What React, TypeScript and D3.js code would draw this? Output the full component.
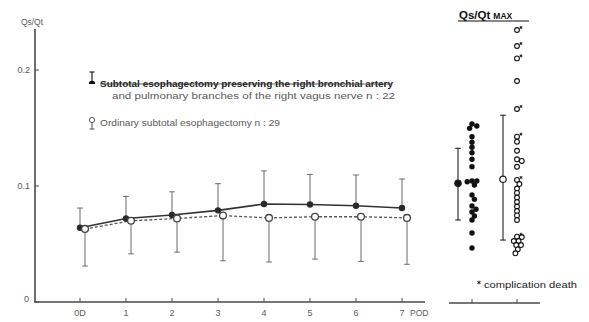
import React from "react";
import * as d3 from "d3";

// ---------- data ----------
const days = ["0D", "1", "2", "3", "4", "5", "6", "7"];
const preservedMean = [0.064, 0.072, 0.075, 0.079, 0.0845, 0.084, 0.083, 0.081];
const preservedUpper = [0.081, 0.091, 0.095, 0.102, 0.113, 0.11, 0.1095, 0.106];
const ordinaryMean = [0.063, 0.07, 0.072, 0.0745, 0.0725, 0.0735, 0.0735, 0.0725];
const ordinaryLower = [0.031, 0.0415, 0.043, 0.0355, 0.0345, 0.037, 0.035, 0.0325];
const yTicks = [0, 0.1, 0.2];
const yTickLabels = ["0", "0.1", "0.2"];

const groups = ["preserved", "ordinary"];
const groupMean = [0.1023, 0.1058];
const groupUpper = [0.1325, 0.161];
const groupLower = [0.0707, 0.0534];

const preservedMax = [
  0.1534, 0.1517, 0.1497, 0.1425, 0.1377, 0.1334, 0.1287, 0.123, 0.1166, 0.1043, 0.1037,
  0.1043, 0.1009, 0.0922, 0.0885, 0.0828, 0.08, 0.0776, 0.0741, 0.0707, 0.0595, 0.0466,
];
const ordinaryMax = [
  0.2345, 0.2207, 0.21, 0.1905, 0.1664, 0.1425, 0.1382, 0.1304, 0.123, 0.1216, 0.1166,
  0.1052, 0.1017, 0.0978, 0.094, 0.0901, 0.0862, 0.0823, 0.0784, 0.0746, 0.0707, 0.0563,
  0.056, 0.0526, 0.0526, 0.0491, 0.0491, 0.0454, 0.042,
];
const ordinaryDeath = [
  true, true, true, false, true, true, false, false, false, false, false,
  true, false, false, false, false, false, false, false, false, false, true,
  false, false, false, false, false, false, false,
];

// ---------- helpers ----------
function dodge(values: number[], y: (v: number) => number, minDist: number) {
  const placed: { x: number; y: number; i: number }[] = [];
  const order = values.map((v, i) => i).sort((a, b) => values[b] - values[a]);
  for (const i of order) {
    const py = y(values[i]);
    let best = 0;
    for (let k = 0; k < 60; k++) {
      const off = k === 0 ? 0 : (k % 2 === 1 ? 1 : -1) * Math.ceil(k / 2) * 0.8;
      const ok = placed.every((p) => Math.hypot(p.x - off, p.y - py) >= minDist);
      if (ok) {
        best = off;
        break;
      }
    }
    placed.push({ x: best, y: py, i });
  }
  return placed.sort((a, b) => a.i - b.i);
}

function Star({ cx, cy, s }: { cx: number; cy: number; s: number }) {
  const a = s * 0.87;
  const b = s * 0.5;
  return (
    <g stroke="#111" strokeWidth={0.9}>
      <line x1={cx} x2={cx} y1={cy - s} y2={cy + s} />
      <line x1={cx - a} x2={cx + a} y1={cy - b} y2={cy + b} />
      <line x1={cx - a} x2={cx + a} y1={cy + b} y2={cy - b} />
    </g>
  );
}

export default function App() {
  const W = 589;
  const H = 322;
  const y = d3.scaleLinear().domain([0, 0.2]).range([302, 70]);
  const x = d3.scalePoint<string>().domain(days).range([80, 402]);
  const gx = d3.scalePoint<string>().domain(groups).range([472, 517]);

  const axisColor = "#4a4a4a";
  const textColor = "#5a5a5a";
  const font = "'Liberation Sans', Arial, sans-serif";

  const solidLine = d3
    .line<number>()
    .x((d, i) => x(days[i])!)
    .y((d) => y(d));
  const dashLine = d3
    .line<number>()
    .x((d, i) => x(days[i])! + 5)
    .y((d) => y(d));

  const cap = 2.8;
  const rFilled = 2.7;
  const rOpen = 2.7;

  const presDots = dodge(preservedMax, y, 4.6);
  const ordDots = dodge(ordinaryMax, y, 4.4);

  return (
    <svg
      width={W}
      height={H}
      style={{ position: "absolute", left: 0, top: 0, background: "#fff" }}
      fontFamily={font}
    >
      <rect width={W} height={H} fill="#fff" />

      {/* main axes */}
      <line x1={35} x2={35} y1={29} y2={302} stroke={axisColor} strokeWidth={1.6} />
      <line x1={34} x2={425} y1={302} y2={302} stroke={axisColor} strokeWidth={1.6} />
      <text x={32} y={25} fontSize={8.5} fill={textColor} textAnchor="middle">
        Qs/Qt
      </text>
      {yTicks.map((t, i) => (
        <g key={t}>
          <line x1={35} x2={39} y1={y(t)} y2={y(t)} stroke={axisColor} strokeWidth={1} />
          <text
            x={i === 0 ? 29 : 30}
            y={y(t) + (i === 0 ? 0 : 3)}
            fontSize={9}
            fill={textColor}
            textAnchor="end"
          >
            {yTickLabels[i]}
          </text>
        </g>
      ))}
      {days.map((d) => (
        <g key={d}>
          <line x1={x(d)} x2={x(d)} y1={302} y2={298} stroke={axisColor} strokeWidth={1} />
          <text x={x(d)} y={316} fontSize={9} fill={textColor} textAnchor="middle">
            {d}
          </text>
        </g>
      ))}
      <text x={410} y={316} fontSize={8.5} fill={textColor}>
        POD
      </text>

      {/* error bars */}
      {days.map((d, i) => (
        <g key={"eb" + d} stroke="#6a6a6a" strokeWidth={1}>
          <line x1={x(d)} x2={x(d)} y1={y(preservedMean[i])} y2={y(preservedUpper[i])} />
          <line
            x1={x(d)! - cap}
            x2={x(d)! + cap}
            y1={y(preservedUpper[i])}
            y2={y(preservedUpper[i])}
          />
          <line
            x1={x(d)! + 5}
            x2={x(d)! + 5}
            y1={y(ordinaryMean[i])}
            y2={y(ordinaryLower[i])}
          />
          <line
            x1={x(d)! + 5 - cap}
            x2={x(d)! + 5 + cap}
            y1={y(ordinaryLower[i])}
            y2={y(ordinaryLower[i])}
          />
        </g>
      ))}

      {/* lines */}
      <path d={dashLine(ordinaryMean)!} fill="none" stroke="#555" strokeWidth={1.3} strokeDasharray="3,2" />
      <path d={solidLine(preservedMean)!} fill="none" stroke="#333" strokeWidth={1.6} />
      {days.map((d, i) => (
        <circle key={"pm" + d} cx={x(d)} cy={y(preservedMean[i])} r={3.2} fill="#2a2a2a" />
      ))}
      {days.map((d, i) => (
        <circle
          key={"om" + d}
          cx={x(d)! + 5}
          cy={y(ordinaryMean[i])}
          r={3.4}
          fill="#fff"
          stroke="#444"
          strokeWidth={1.3}
        />
      ))}

      {/* legend */}
      <g>
        <line x1={92} x2={92} y1={72} y2={82} stroke="#222" strokeWidth={1.2} />
        <line x1={89.5} x2={94.5} y1={72} y2={72} stroke="#222" strokeWidth={1.2} />
        <path d="M88.8,84 A3.2,3.2 0 0 1 95.2,84 Z" fill="#111" />
        <text
          x={100}
          y={87}
          fontSize={9.5}
          fontWeight="bold"
          fill="#222"
          textLength={293}
          lengthAdjust="spacingAndGlyphs"
        >
          Subtotal esophagectomy preserving the right bronchial artery
        </text>
        <line x1={100} x2={392} y1={84} y2={84} stroke="#333" strokeWidth={0.8} />
        <text
          x={112}
          y={99}
          fontSize={8.5}
          fill={textColor}
          textLength={283}
          lengthAdjust="spacingAndGlyphs"
        >
          and pulmonary branches of the right vagus nerve  n : 22
        </text>
        <circle cx={92} cy={120} r={2.6} fill="#fff" stroke="#555" strokeWidth={1} />
        <line x1={92} x2={92} y1={122.6} y2={129} stroke="#555" strokeWidth={1} />
        <line x1={89.5} x2={94.5} y1={129} y2={129} stroke="#555" strokeWidth={1} />
        <text
          x={100}
          y={126}
          fontSize={8.5}
          fill={textColor}
          textLength={180}
          lengthAdjust="spacingAndGlyphs"
        >
          Ordinary subtotal esophagectomy   n : 29
        </text>
      </g>

      {/* right panel */}
      <text x={459} y={19} fontSize={11.5} fill="#111" fontWeight="bold">
        Qs/Qt
        <tspan fontSize={8.5} dx={3}>
          MAX
        </tspan>
      </text>
      <line x1={458} x2={529} y1={21} y2={21} stroke="#111" strokeWidth={1.2} />

      <line x1={449} x2={540} y1={303} y2={303} stroke={axisColor} strokeWidth={1.6} />
      {groups.map((g) => (
        <line key={g} x1={gx(g)} x2={gx(g)} y1={303} y2={299} stroke={axisColor} strokeWidth={1} />
      ))}

      {groups.map((g, i) => {
        const cx = gx(g)! - 14;
        return (
          <g key={"gm" + g} stroke="#222" strokeWidth={1.1}>
            <line x1={cx} x2={cx} y1={y(groupUpper[i])} y2={y(groupLower[i])} />
            <line x1={cx - cap} x2={cx + cap} y1={y(groupUpper[i])} y2={y(groupUpper[i])} />
            <line x1={cx - cap} x2={cx + cap} y1={y(groupLower[i])} y2={y(groupLower[i])} />
            <circle
              cx={cx}
              cy={y(groupMean[i])}
              r={3.2}
              fill={i === 0 ? "#111" : "#fff"}
              stroke="#222"
              strokeWidth={1.2}
            />
          </g>
        );
      })}

      {presDots.map((p) => (
        <circle key={"pd" + p.i} cx={gx("preserved")! + p.x} cy={p.y} r={rFilled} fill="#111" />
      ))}
      {ordDots.map((p) => (
        <circle
          key={"od" + p.i}
          cx={gx("ordinary")! + p.x}
          cy={p.y}
          r={rOpen - 0.3}
          fill="#fff"
          stroke="#111"
          strokeWidth={1.1}
        />
      ))}
      {ordDots.map((p) =>
        ordinaryDeath[p.i] ? (
          <Star key={"st" + p.i} cx={gx("ordinary")! + p.x + 4} cy={p.y - 2.5} s={1.5} />
        ) : null
      )}

      <Star cx={479} cy={282.5} s={1.8} />
      <text x={484} y={288} fontSize={8.5} fill="#222" textLength={93} lengthAdjust="spacingAndGlyphs">
        complication death
      </text>
    </svg>
  );
}
